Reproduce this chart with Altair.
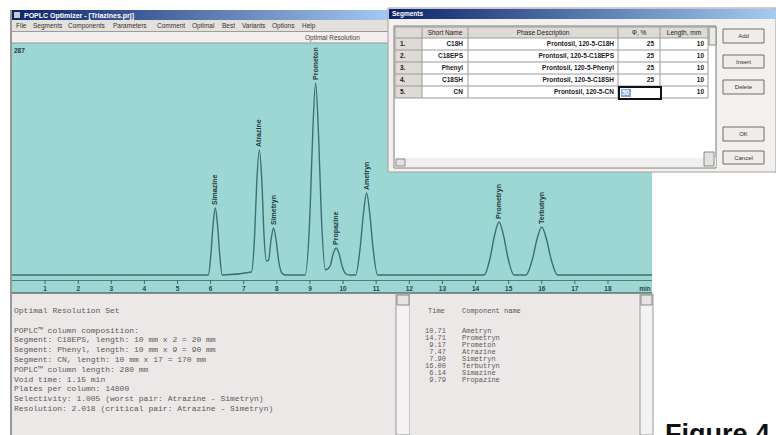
import altair as alt
import pandas as pd

# ---------------- data ----------------
PEAK_NAMES = ["Simazine", "Atrazine", "Simetryn", "Prometon", "Propazine",
              "Ametryn", "Prometryn", "Terbutryn"]
PEAK_TIMES = [6.14, 7.47, 7.90, 9.17, 9.79, 10.71, 14.71, 16.00]
PEAK_HEIGHTS = [67, 125, 47, 192, 27, 82, 53, 48]

TRACE_TIME = [0.0,
              5.93, 6.01, 6.07, 6.14, 6.21, 6.27, 6.35,
              7.23, 7.33, 7.39, 7.47, 7.55, 7.61, 7.685,
              7.75, 7.82, 7.90, 7.98, 8.05, 8.15, 8.25,
              8.85, 9.00, 9.08, 9.17, 9.26, 9.34, 9.47,
              9.61, 9.69, 9.79, 9.89, 9.97, 10.09, 10.20,
              10.38, 10.515, 10.61, 10.71, 10.81, 10.905, 11.04,
              14.26, 14.44, 14.57, 14.71, 14.85, 14.98, 15.16,
              15.52, 15.72, 15.85, 16.00, 16.15, 16.28, 16.48,
              19.33]
TRACE_SIGNAL = [0,
                0, 22, 49, 67, 49, 22, 0,
                3, 41, 91, 125, 91, 41, 14,
                15, 34, 47, 34, 15, 2, 0,
                0, 62, 139, 192, 139, 62, 5,
                9, 20, 27, 20, 9, 1, 0,
                0, 27, 60, 82, 60, 27, 0,
                0, 17, 39, 53, 39, 17, 0,
                0, 16, 35, 48, 35, 16, 0,
                0]

AXIS_TICKS = list(range(1, 19))
AXIS_UNIT = "min"

WINDOW_TITLE = "POPLC Optimizer - [Triazines.prj]"
MENU_ITEMS = ["File", "Segments", "Components", "Parameters", "Comment",
              "Optimal", "Best", "Variants", "Options", "Help"]
STATUS_TEXT = "Optimal Resolution"
CORNER_TEXT = "287"

DIALOG_TITLE = "Segments"
TABLE_HEADERS = ["Short Name", "Phase Description", "\u03a6, %", "Length, mm"]
ROW_NUMBERS = ["1.", "2.", "3.", "4.", "5."]
SHORT_NAMES = ["C18H", "C18EPS", "Phenyl", "C18SH", "CN"]
PHASE_DESCRIPTIONS = ["Prontosil, 120-5-C18H", "Prontosil, 120-5-C18EPS",
                      "Prontosil, 120-5-Phenyl", "Prontosil, 120-5-C18SH",
                      "Prontosil, 120-5-CN"]
PHI_PERCENT = ["25", "25", "25", "25", ""]
SELECTED_PHI = "50"
LENGTH_MM = ["10", "10", "10", "10", "10"]
BUTTONS = ["Add", "Insert", "Delete", "OK", "Cancel"]

REPORT_LINES = [
    "Optimal Resolution Set",
    "",
    "POPLC\u2122 column composition:",
    "Segment: C18EPS, length: 10 mm x 2 = 20 mm",
    "Segment: Phenyl, length: 10 mm x 9 = 90 mm",
    "Segment: CN, length: 10 mm x 17 = 170 mm",
    "POPLC\u2122 column length: 280 mm",
    "Void time: 1.15 min",
    "Plates per column: 14800",
    "Selectivity: 1.005 (worst pair: Atrazine - Simetryn)",
    "Resolution: 2.018 (critical pair: Atrazine - Simetryn)",
]
RESULT_HEADER = ["Time", "Component name"]
RESULT_TIMES = ["10.71", "14.71", "9.17", "7.47", "7.90", "16.00", "6.14", "9.79"]
RESULT_NAMES = ["Ametryn", "Prometryn", "Prometon", "Atrazine", "Simetryn",
                "Terbutryn", "Simazine", "Propazine"]
FIGURE_LABEL = "Figure 4"

# ---------------- styles / layout ----------------
W, H = 776, 435
CYAN = "#9dd7d4"
TRACE = "#3a716e"
LABEL = "#1e3b3b"
PANEL = "#ece8e7"
MENU = "#e4e0dc"
DIALOG = "#f3f1ef"
GRID = "#9a9a9a"
SANS = "Liberation Sans"
MONO = "Liberation Mono"
TITLE_GRAD = alt.LinearGradient(
    gradient="linear", x1=0, x2=1, y1=0, y2=0,
    stops=[alt.GradientStop(color="#0a246a", offset=0),
           alt.GradientStop(color="#a6caf0", offset=1)])

X_SCALE = alt.Scale(domain=[0, 19.33], range=[12, 652])
Y_SCALE = alt.Scale(domain=[0, 200], range=[275, 75])

DUMMY = pd.DataFrame({"d": [0]})
layers = []


def box(x, x2, y, y2, fill, stroke=None, sw=1.0):
    kw = dict(fill=fill)
    if stroke is not None:
        kw.update(stroke=stroke, strokeWidth=sw)
    else:
        kw.update(strokeWidth=0)
    layers.append(alt.Chart(DUMMY).mark_rect(**kw).encode(
        x=alt.value(x), x2=alt.value(x2), y=alt.value(y), y2=alt.value(y2)))


def hline(x, x2, y, color, sw=1.0):
    layers.append(alt.Chart(DUMMY).mark_rule(color=color, strokeWidth=sw).encode(
        x=alt.value(x), x2=alt.value(x2), y=alt.value(y)))


def vline(x, y, y2, color, sw=1.0):
    layers.append(alt.Chart(DUMMY).mark_rule(color=color, strokeWidth=sw).encode(
        x=alt.value(x), y=alt.value(y), y2=alt.value(y2)))


def label(x, y, s, size=7.0, color="#222222", font=SANS, weight="normal",
          align="left", baseline="middle"):
    layers.append(alt.Chart(DUMMY).mark_text(
        text=s, fontSize=size, color=color, font=font, fontWeight=weight,
        align=align, baseline=baseline).encode(x=alt.value(x), y=alt.value(y)))


def column_text(values, x, y0, y1, size=6.5, color="#222222", font=SANS,
                align="left", weight="normal"):
    df = pd.DataFrame({"i": list(range(len(values))), "s": values})
    n = max(len(values) - 1, 1)
    layers.append(alt.Chart(df).mark_text(
        fontSize=size, color=color, font=font, align=align, baseline="middle",
        fontWeight=weight).encode(
        x=alt.value(x),
        y=alt.Y("i:Q", scale=alt.Scale(domain=[0, n], range=[y0, y1]), axis=None),
        text="s:N"))


# ---------------- main window ----------------
vline(11, 10, 435, "#555555", 1.2)
box(12, 652, 43, 293, CYAN)

# chromatogram trace
trace_df = pd.DataFrame({"t": TRACE_TIME, "s": TRACE_SIGNAL})
layers.append(alt.Chart(trace_df).mark_line(
    color=TRACE, strokeWidth=1.4, interpolate="monotone").encode(
    x=alt.X("t:Q", scale=X_SCALE, axis=None),
    y=alt.Y("s:Q", scale=Y_SCALE, axis=None)))

# peak labels
peaks_df = pd.DataFrame({"name": PEAK_NAMES, "t": PEAK_TIMES, "h": PEAK_HEIGHTS})
layers.append(alt.Chart(peaks_df).mark_text(
    angle=270, align="left", baseline="middle", dx=3, fontSize=7,
    fontWeight="bold", color=LABEL, font=SANS).encode(
    x=alt.X("t:Q", scale=X_SCALE, axis=None),
    y=alt.Y("h:Q", scale=Y_SCALE, axis=None),
    text="name:N"))

# time axis strip
hline(12, 652, 280.5, "#4f7f7d", 1.2)
ticks_df = pd.DataFrame({"t": AXIS_TICKS, "lab": [str(v) for v in AXIS_TICKS]})
layers.append(alt.Chart(ticks_df).mark_rule(color="#3f6a68", strokeWidth=1).encode(
    x=alt.X("t:Q", scale=X_SCALE, axis=None), y=alt.value(280), y2=alt.value(284)))
layers.append(alt.Chart(ticks_df).mark_text(
    fontSize=6.5, color="#2a4646", font=SANS, fontWeight="bold",
    baseline="middle").encode(
    x=alt.X("t:Q", scale=X_SCALE, axis=None), y=alt.value(288.5), text="lab:N"))
label(645, 288.5, AXIS_UNIT, size=6.5, color="#2a4646", weight="bold", align="center")
hline(12, 652, 293, "#5d6b6b", 1.5)

# title bar, menu bar, status row
box(12, 390, 10, 20, TITLE_GRAD)
box(14, 20, 12, 18, "#c8c8c8")
label(24, 15.5, WINDOW_TITLE, size=7, color="#ffffff", weight="bold")
box(12, 652, 20, 31, MENU)
menu_x = [16, 33, 68, 113, 157, 192, 222, 242, 272, 302]
for mx, item in zip(menu_x, MENU_ITEMS):
    label(mx, 26, item, size=6.5, color="#333333")
hline(12, 652, 31.5, "#9c9c9c", 1)
box(12, 652, 32, 43, "#f4eeee")
label(305, 38, STATUS_TEXT, size=6.5, color="#444444")
hline(12, 652, 43, "#8a9a9a", 1)
label(14, 51, CORNER_TEXT, size=6.5, color="#1e3b3b", weight="bold")

# ---------------- bottom text panels ----------------
box(12, 396, 294, 435, PANEL)
column_text(REPORT_LINES, 14, 311, 409, size=8, color="#5a5a5a", font=MONO)
box(396, 410, 294, 435, "#f4f2f2", "#9a9a9a", 1)
box(397, 409, 295, 305, "#e6e3e3", "#8a8a8a", 1)

box(410, 640, 294, 435, PANEL)
label(428, 311, RESULT_HEADER[0], size=7, color="#5a5a5a", font=MONO)
label(462, 311, RESULT_HEADER[1], size=7, color="#5a5a5a", font=MONO)
column_text(RESULT_TIMES, 446, 331, 380, size=7, color="#5a5a5a", font=MONO, align="right")
column_text(RESULT_NAMES, 462, 331, 380, size=7, color="#5a5a5a", font=MONO)
box(640, 653, 294, 435, "#f4f2f2", "#9a9a9a", 1)
box(641, 652, 295, 305, "#e6e3e3", "#8a8a8a", 1)

label(665, 443, FIGURE_LABEL, size=27, color="#111111", weight="bold",
      baseline="alphabetic")

# ---------------- Segments dialog ----------------
box(388, 776, 8, 172, DIALOG, "#a0a0a0", 1)
box(389, 776, 9, 19, TITLE_GRAD)
label(392, 14, DIALOG_TITLE, size=6.5, color="#ffffff", weight="bold")

# table
box(394, 716, 26, 168, "#ffffff", "#7a7a7a", 1)
box(395, 708, 27, 38, "#dedad5")
box(395, 422, 38, 98, "#dedad5")
col_edges = [395, 422, 468, 618, 660, 708]
row_edges = [27, 38, 50, 62, 74, 86, 98]
for cx in col_edges:
    vline(cx, 27, 98, GRID, 1)
for ry in row_edges:
    hline(395, 708, ry, GRID, 1)
label(445, 32.5, TABLE_HEADERS[0], size=6.5, color="#222222", align="center")
label(543, 32.5, TABLE_HEADERS[1], size=6.5, color="#222222", align="center")
label(639, 32.5, TABLE_HEADERS[2], size=6.5, color="#222222", align="center")
label(684, 32.5, TABLE_HEADERS[3], size=6.5, color="#222222", align="center")
column_text(ROW_NUMBERS, 400, 44, 92, size=6.5, weight="bold")
column_text(SHORT_NAMES, 463, 44, 92, size=6.5, align="right", weight="bold")
column_text(PHASE_DESCRIPTIONS, 614, 44, 92, size=6.5, align="right", weight="bold")
column_text(PHI_PERCENT, 654, 44, 92, size=6.5, align="right", weight="bold")
column_text(LENGTH_MM, 704, 44, 92, size=6.5, align="right", weight="bold")
# selected cell
box(619, 661, 87, 99, "#ffffff", "#111111", 2)
box(621, 631, 89, 97, "#7fa7d8")
label(622, 93, SELECTED_PHI, size=6.5, color="#ffffff", weight="bold")
# small scroll widgets
box(709, 716, 27, 45, "#ece9e6", "#8a8a8a", 1)
box(395, 716, 158, 167, "#f2f0ee")
box(396, 405, 159, 166, "#e4e1de", "#8a8a8a", 1)
box(704, 714, 152, 166, "#e4e1de", "#8a8a8a", 1)

# buttons
btn_y = [(29, 43), (55, 68), (80, 94), (127, 141), (151, 164)]
for (y0, y1), name in zip(btn_y, BUTTONS):
    box(723, 764, y0, y1, "#efece9", "#6f6f6f", 1)
    label(743.5, (y0 + y1) / 2, name, size=6, color="#333333", align="center")

chart = alt.layer(*layers).resolve_scale(x="independent", y="independent").properties(
    width=W, height=H, padding=0, autosize=alt.AutoSizeParams(type="none"),
    background="#ffffff").configure_view(stroke=None)

chart.save("out.html", embed_options={"renderer": "svg", "actions": False})
